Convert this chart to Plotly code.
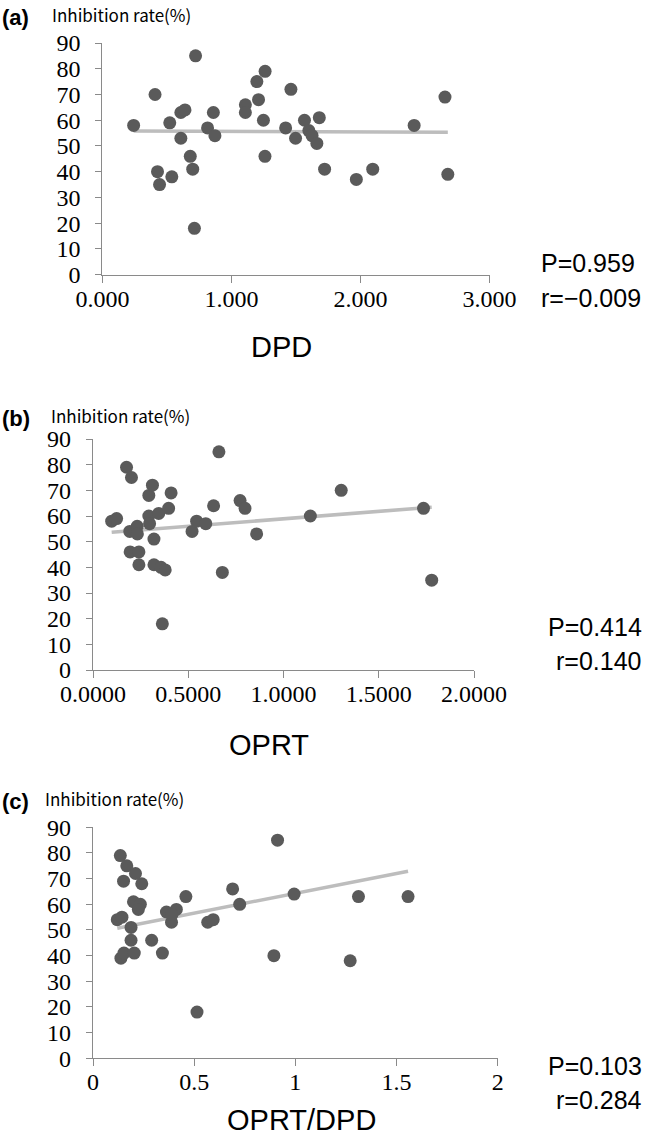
import numpy as np
import plotly.graph_objects as go

# ---------------- data ----------------
dpd = [0.242, 0.408, 0.427, 0.443, 0.522, 0.538, 0.608, 0.608, 0.640, 0.681, 0.700, 0.713,
       0.722, 0.815, 0.860, 0.872, 1.108, 1.108, 1.197, 1.210, 1.248, 1.261, 1.260, 1.420,
       1.461, 1.497, 1.566, 1.600, 1.625, 1.662, 1.681, 1.722, 1.968, 2.095, 2.416, 2.655, 2.677]
inh_a = [58, 70, 40, 35, 59, 38, 53, 63, 64, 46, 41, 18,
         85, 57, 63, 54, 66, 63, 75, 68, 60, 79, 46, 57,
         72, 53, 60, 56, 54, 51, 61, 41, 37, 41, 58, 69, 39]

oprt = [0.098, 0.124, 0.176, 0.202, 0.193, 0.195, 0.232, 0.233, 0.241, 0.241, 0.293, 0.312,
        0.293, 0.297, 0.320, 0.345, 0.397, 0.410, 0.320, 0.357, 0.379, 0.364, 0.520, 0.544,
        0.592, 0.633, 0.661, 0.679, 0.772, 0.798, 0.859, 1.141, 1.303, 1.735, 1.778]
inh_b = [58, 59, 79, 75, 54, 46, 56, 53, 46, 41, 68, 72,
         60, 57, 51, 61, 63, 69, 41, 40, 39, 18, 54, 58,
         57, 64, 85, 38, 66, 63, 53, 60, 70, 63, 35]

ratio = [0.120, 0.143, 0.135, 0.167, 0.151, 0.210, 0.241, 0.200, 0.234, 0.224, 0.188, 0.188,
         0.290, 0.138, 0.153, 0.204, 0.343, 0.514, 0.894, 1.271, 0.363, 0.388, 0.412, 0.390,
         0.459, 0.567, 0.594, 0.690, 0.725, 0.912, 0.994, 1.312, 1.557]
inh_c = [54, 55, 79, 75, 69, 72, 68, 61, 60, 58, 51, 46,
         46, 39, 41, 41, 41, 18, 40, 38, 57, 53, 58, 56,
         63, 53, 54, 66, 60, 85, 64, 63, 63]

# linear trend lines as drawn in the reference (intercept, slope)
trend_intercept = [55.85, 53.07, 48.8]
trend_slope = [-0.20, 5.84, 15.46]

panel_labels = ["(a)", "(b)", "(c)"]
x_titles = ["DPD", "OPRT", "OPRT/DPD"]
p_texts = ["P=0.959", "P=0.414", "P=0.103"]
r_texts = ["r=\u22120.009", "r=0.140", "r=0.284"]
y_title = "Inhibition rate(%)"
x_ranges = [[0, 3], [0, 2], [0, 2]]
x_dticks = [1, 0.5, 0.5]
x_formats = [".3f", ".4f", ""]
y_ticks = list(range(0, 91, 10))

W, H = 646, 1138
def fx(px):
    return px / W
def fy(py):
    return 1 - py / H

# panel geometry in pixels: x0, x1, ytop, ybottom
geo = [(102.4, 489.5, 43, 274.7),
       (93, 474, 439, 670),
       (93, 497.7, 827.3, 1058.3)]

xs = [dpd, oprt, ratio]
ys = [inh_a, inh_b, inh_c]

fig = go.Figure()
layout = {}
annotations = []
AX_COL = "#8a8a8a"
for i in range(3):
    n = "" if i == 0 else str(i + 1)
    x = np.array(xs[i]); y = np.array(ys[i])
    lx = np.array([x.min(), x.max()])
    fig.add_trace(go.Scatter(x=lx, y=trend_intercept[i] + trend_slope[i] * lx, mode="lines",
                             line=dict(color="#bdbdbd", width=3.5),
                             xaxis="x" + n, yaxis="y" + n, showlegend=False))
    fig.add_trace(go.Scatter(x=x, y=y, mode="markers",
                             marker=dict(color="#5a5a5a", size=13),
                             xaxis="x" + n, yaxis="y" + n, showlegend=False,
                             cliponaxis=False))
    x0, x1, yt, yb = geo[i]
    layout["xaxis" + n] = dict(domain=[fx(x0), fx(x1)], range=x_ranges[i], anchor="y" + n,
                              dtick=x_dticks[i], tick0=0, tickformat=x_formats[i],
                              showline=True, linecolor=AX_COL, linewidth=1.2, automargin=False,
                              ticks="outside", ticklen=7, tickcolor=AX_COL, showgrid=False,
                              zeroline=False, ticklabelstandoff=-5,
                              tickfont=dict(family="Liberation Serif", size=24, color="black"))
    layout["yaxis" + n] = dict(domain=[fy(yb), fy(yt)], range=[0, 90], anchor="x" + n,
                              tickvals=y_ticks, showline=True, linecolor=AX_COL, linewidth=1.2,
                              ticks="outside", ticklen=6, tickcolor=AX_COL, showgrid=False,
                              zeroline=False, ticklabelstandoff=10, automargin=False,
                              tickfont=dict(family="Liberation Serif", size=24, color="black"))

lab_y = [15, 415, 798]
title_x = [50, 49, 43]
xt_pos = [(281, 347), (269, 745), (301, 1120)]
p_pos = [(539, 263, "left"), (644, 627, "right"), (644, 1066, "right")]
r_pos = [(539, 298, "left"), (644, 661, "right"), (644, 1100, "right")]
for i in range(3):
    annotations.append(dict(text="<b>" + panel_labels[i] + "</b>", x=fx(0), y=fy(lab_y[i] + 3),
                            xref="paper", yref="paper", xanchor="left", yanchor="middle",
                            showarrow=False, font=dict(family="Liberation Sans", size=22, color="black")))
    annotations.append(dict(text=y_title, x=fx(title_x[i]), y=fy(lab_y[i]),
                            xref="paper", yref="paper", xanchor="left", yanchor="middle",
                            showarrow=False, font=dict(family="Noto Sans CJK JP", size=17, color="black")))
    annotations.append(dict(text=x_titles[i], x=fx(xt_pos[i][0]), y=fy(xt_pos[i][1]),
                            xref="paper", yref="paper", xanchor="center", yanchor="middle",
                            showarrow=False, font=dict(family="Liberation Sans", size=29, color="black")))
    px_, py_, al = p_pos[i]
    annotations.append(dict(text=p_texts[i], x=fx(px_), y=fy(py_), xref="paper", yref="paper",
                            xanchor=al, yanchor="middle", showarrow=False,
                            font=dict(family="Liberation Sans", size=25, color="black")))
    px_, py_, al = r_pos[i]
    annotations.append(dict(text=r_texts[i], x=fx(px_), y=fy(py_), xref="paper", yref="paper",
                            xanchor=al, yanchor="middle", showarrow=False,
                            font=dict(family="Liberation Sans", size=25, color="black")))

fig.update_layout(width=W, height=H, margin=dict(l=0, r=0, t=0, b=0),
                  paper_bgcolor="white", plot_bgcolor="white", template="none",
                  annotations=annotations, **layout)
fig.write_html("out.html", config={"displayModeBar": False},
               post_script="document.body.style.margin='0';document.body.style.overflow='hidden';")
